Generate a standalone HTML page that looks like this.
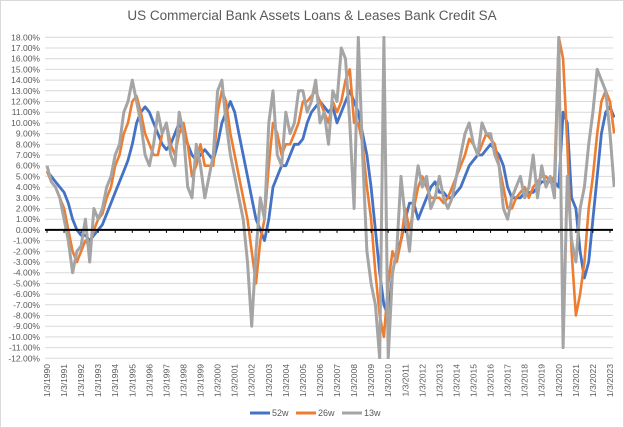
<!DOCTYPE html>
<html><head><meta charset="utf-8"><style>
body{margin:0;background:#fff}
svg{display:block;font-family:"Liberation Sans",sans-serif}
</style></head><body>
<svg id="chart" width="624" height="428" viewBox="0 0 624 428">
<rect x="0.5" y="0.5" width="623" height="427" fill="#fff" stroke="#d9d9d9"/>
<text x="312" y="20" text-anchor="middle" font-size="13.5" fill="#595959">US Commercial Bank Assets Loans &amp; Leases Bank Credit SA</text>
<defs><clipPath id="pc"><rect x="45" y="36" width="570" height="323"/></clipPath></defs>
<g id="grid"></g><g id="series" clip-path="url(#pc)"></g><g id="axes"></g>
<g>
<line x1="250" y1="413" x2="270" y2="413" stroke="#4472c4" stroke-width="3"/><text x="272" y="416" font-size="9" fill="#595959">52w</text>
<line x1="296" y1="413" x2="316" y2="413" stroke="#ed7d31" stroke-width="3"/><text x="318" y="416" font-size="9" fill="#595959">26w</text>
<line x1="342" y1="413" x2="362" y2="413" stroke="#a5a5a5" stroke-width="3"/><text x="364" y="416" font-size="9" fill="#595959">13w</text>
</g>
</svg>
<script>
const yTicks=[18,17,16,15,14,13,12,11,10,9,8,7,6,5,4,3,2,1,0,-1,-2,-3,-4,-5,-6,-7,-8,-9,-10,-11,-12];
const years=[1990,1991,1992,1993,1994,1995,1996,1997,1998,1999,2000,2001,2002,2003,2004,2005,2006,2007,2008,2009,2010,2011,2012,2013,2014,2015,2016,2017,2018,2019,2020,2021,2022,2023];
const s52=[5.5,5,4.5,4, 3.5,2.5,1,0, -0.5,-0.5,-1,-0.5, 0,0.5,1.5,2.5, 3.5,4.5,5.5,6.5, 8,10,11,11.5, 11,10,9,8, 7.5,8,9,10, 9,8,7,6.5, 7,7.5,7,6.5, 8,10,11,12, 11,9,7,5, 3,1,0,-1, 1,4,5,6, 6,7,8,8, 8.5,10,11,11.5, 12,11.5,11,11.5, 10,11,12,13, 12,11,9,7, 4,0,-4,-7, -8,-4,-2,-1, 1,2.5,2.5,1, 2,3,4,4.5, 3.5,3.5,3,3, 3.5,4,5,6, 6.5,7,7,7.5, 8,7.5,7,6, 4,3,3,3, 3.5,3.5,3.5,4, 4.5,4.5,4.5,4.5, 4,11,10,3, 2,-2,-4.5,-3, 1,5,9,11, 11.5,10.5];
const s26=[5.5,4.5,4,3, 2,0,-2,-3, -2,-1,-1.5,0, 1,1.5,3,4, 6,7,9,10, 12,12.5,11,9, 8,7,7,9, 10,8,7,9, 10,8,5,6, 8,6,6,6, 11,13,12,9, 7,5,3,1, -2,-5,-1,1, 6,10,9,7, 8,8,9,10, 12,12,12.5,13, 12,11,10,12, 11,12,14,15, 10,10,8,4, 1,-4,-8,-10, -5,-2,-3,-1, 2,0,2,4, 5,4,3,3, 3,2.5,3,4, 5,6,7,8.5, 8,7,8,9, 8.5,8,6,4, 2,2,3,3.5, 4,3,4,4.5, 5,5,4.5,5, 18,16,8,-2, -8,-6,-3,2, 5,9,12,13, 12,9];
const s13=[6,4.5,4,3, 1,-1,-4,-2, -1.5,1,-3,2, 1,2,4,5, 7,8,11,12, 14,12,10,7, 6,8,11,9, 10,7,6,11, 9,4,3,8, 6,3,5,7, 13,14,10,7, 5,3,1,-3, -9,-2,3,1, 10,13,7,6, 11,9,10,13, 13,11,12,14, 10,11,8,13, 12,17,16,10, 2,18,7,-2, -5,-7,-12,18, -12,-4,-2,5, 1,-2,3,6, 4,5,2,3, 5,3,2,3, 5,7,9,10, 8,7,10,9, 9,7,6,2, 1,3,4,5, 3,4,7,3, 6,4,5,3, 18,-11,5,-1, -3,2,4,8, 11,15,14,13, 9,4];
const NS='http://www.w3.org/2000/svg';
const X0=47,XW=17.06,Y18=37.3,PP=10.7;
function xs(t){return X0+(t-1990)*XW;}
function ys(v){return Y18+(18-v)*PP;}
function mk(tag,attrs,parent){const e=document.createElementNS(NS,tag);for(const k in attrs)e.setAttribute(k,attrs[k]);parent.appendChild(e);return e;}
const grid=document.getElementById('grid'),axes=document.getElementById('axes'),ser=document.getElementById('series');
yTicks.forEach(v=>{
 const l=mk('line',{x1:45,x2:613,y1:ys(v),y2:ys(v),stroke:'#d9d9d9','stroke-width':1},grid);
 
 
 const t=mk('text',{x:40,y:ys(v)+3,'text-anchor':'end','font-size':8.5,fill:'#595959'},axes);
 t.textContent=v.toFixed(2)+'%';
 
 
});
function draw(arr,color,w,name){
 const pts=arr.map((v,i)=>xs(1990+i/4).toFixed(1)+','+ys(v).toFixed(1)).join(' ');
 const p=mk('polyline',{points:pts,fill:'none',stroke:color,'stroke-width':w,'stroke-linejoin':'round'},ser);
 
 
}
draw(s52,'#4472c4',2.8,'series-52w');
draw(s26,'#ed7d31',2.6,'series-26w');
draw(s13,'#a5a5a5',3,'series-13w');
const z=mk('line',{x1:45,x2:613,y1:ys(0),y2:ys(0),stroke:'#000','stroke-width':2},axes);


years.forEach(yr=>{
 const x=xs(yr);
 const tk=mk('line',{x1:x,x2:x,y1:ys(0),y2:ys(0)+3,stroke:'#000','stroke-width':1},axes);
 
 
 const t=mk('text',{x:0,y:0,'text-anchor':'end','font-size':8.5,fill:'#595959',transform:'translate('+(x+3)+',364) rotate(-90)'},axes);
 t.textContent='1/3/'+yr;
 
 
});
</script>
</body></html>
